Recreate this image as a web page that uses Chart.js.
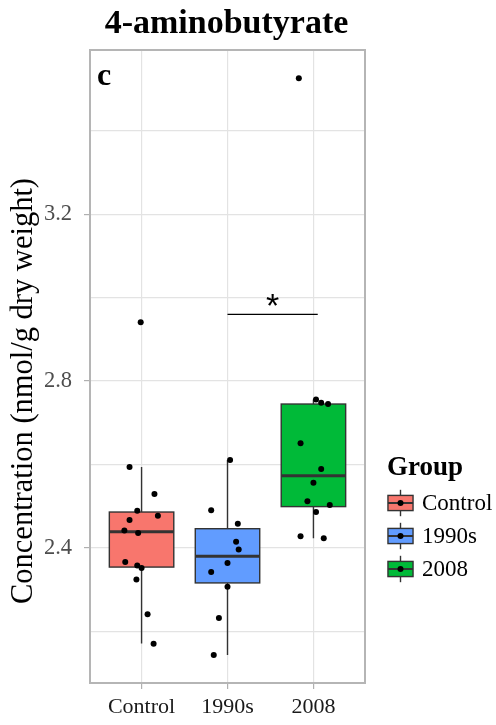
<!DOCTYPE html>
<html>
<head>
<meta charset="utf-8">
<script src="https://cdn.jsdelivr.net/npm/chart.js@4"></script>
<style>
  html, body { margin: 0; padding: 0; background: #fff; }
  #wrap { width: 496px; height: 725px; }
</style>
</head>
<body>
<div id="wrap"><canvas id="chart" width="496" height="725"></canvas></div>
<script>
const groups = ['Control', '1990s', '2008'];
const fills = ['#F8766D', '#619CFF', '#00BA38'];

// box stats
const q1 = [2.354, 2.316, 2.499];
const median = [2.439, 2.380, 2.573];
const q3 = [2.486, 2.446, 2.745];
const whiskerLow = [2.171, 2.143, 2.423];
const whiskerHigh = [2.594, 2.611, 2.756];

// jittered points: values and horizontal offsets
const controlValues = [2.941, 2.594, 2.529, 2.489, 2.477, 2.467, 2.442, 2.436, 2.366, 2.358, 2.352, 2.324, 2.241, 2.170];
const controlJitter = [-0.01, -0.14, 0.15, -0.05, 0.19, -0.14, -0.20, -0.04, -0.19, -0.05, 0.00, -0.06, 0.07, 0.14];
const nineties = [2.611, 2.490, 2.458, 2.415, 2.396, 2.364, 2.342, 2.307, 2.232, 2.143];
const ninetiesJitter = [0.03, -0.19, 0.12, 0.10, 0.13, 0.00, -0.19, 0.00, -0.10, -0.16];
const y2008 = [3.526, 2.756, 2.748, 2.745, 2.651, 2.589, 2.556, 2.512, 2.503, 2.486, 2.428, 2.423];
const y2008Jitter = [-0.17, 0.03, 0.09, 0.17, -0.15, 0.09, 0.00, -0.07, 0.19, 0.03, -0.15, 0.12];

const yMajor = [2.4, 2.8, 3.2];
const yGrid = [2.2, 2.4, 2.6, 2.8, 3.0, 3.2, 3.4];

// significance bar between 1990s and 2008
const sigFrom = 2, sigTo = 3.05, sigY = 2.96;

const SERIF = '"Liberation Serif", "DejaVu Serif", serif';
const BOX_W = 0.75;

function pts(vals, jit, g) {
  return vals.map((v, i) => ({ x: g + jit[i], y: v }));
}

const boxPlugin = {
  id: 'boxes',
  beforeDatasetsDraw(chart) {
    const { ctx, scales: { x, y } } = chart;
    ctx.save();
    groups.forEach((g, i) => {
      const cx = x.getPixelForValue(i + 1);
      const l = x.getPixelForValue(i + 1 - BOX_W / 2);
      const r = x.getPixelForValue(i + 1 + BOX_W / 2);
      const top = y.getPixelForValue(q3[i]);
      const bot = y.getPixelForValue(q1[i]);
      ctx.strokeStyle = '#333';
      ctx.lineWidth = 1.4;
      ctx.beginPath();
      ctx.moveTo(cx, y.getPixelForValue(whiskerHigh[i]));
      ctx.lineTo(cx, top);
      ctx.moveTo(cx, bot);
      ctx.lineTo(cx, y.getPixelForValue(whiskerLow[i]));
      ctx.stroke();
      ctx.fillStyle = fills[i];
      ctx.fillRect(l, top, r - l, bot - top);
      ctx.strokeRect(l, top, r - l, bot - top);
      const m = y.getPixelForValue(median[i]);
      ctx.lineWidth = 3;
      ctx.beginPath();
      ctx.moveTo(l, m);
      ctx.lineTo(r, m);
      ctx.stroke();
    });
    ctx.restore();
  },
  afterDraw(chart) {
    const { ctx, chartArea: a, scales: { x, y } } = chart;
    ctx.save();
    // panel border
    ctx.strokeStyle = '#b5b5b5';
    ctx.lineWidth = 2;
    ctx.strokeRect(a.left, a.top, a.right - a.left, a.bottom - a.top);

    // significance bar
    const sy = y.getPixelForValue(sigY);
    ctx.strokeStyle = '#000';
    ctx.lineWidth = 1.3;
    ctx.beginPath();
    ctx.moveTo(x.getPixelForValue(sigFrom), sy);
    ctx.lineTo(x.getPixelForValue(sigTo), sy);
    ctx.stroke();
    ctx.fillStyle = '#000';
    ctx.font = '34px "Liberation Sans", sans-serif';
    ctx.textAlign = 'center';
    ctx.textBaseline = 'alphabetic';
    ctx.fillText('*', x.getPixelForValue((sigFrom + sigTo) / 2), sy + 3);

    // panel tag
    ctx.font = 'bold 32px ' + SERIF;
    ctx.textAlign = 'left';
    ctx.fillText('c', a.left + 7, a.top + 35);

    // title
    ctx.font = 'bold 34px ' + SERIF;
    ctx.textAlign = 'center';
    ctx.fillText('4-aminobutyrate', (a.left + a.right) / 2 - 1, 33);

    // y axis title
    ctx.save();
    ctx.translate(32, 391);
    ctx.rotate(-Math.PI / 2);
    ctx.font = '30.5px ' + SERIF;
    ctx.fillText('Concentration (nmol/g dry weight)', 0, 0);
    ctx.restore();

    // legend
    ctx.textAlign = 'left';
    ctx.font = 'bold 27px ' + SERIF;
    ctx.fillText('Group', 387, 475);
    const key = 33;
    groups.forEach((g, i) => {
      const cy = 503 + i * key;
      const kx = 384;
      ctx.strokeStyle = '#333';
      ctx.lineWidth = 1.4;
      ctx.beginPath();
      ctx.moveTo(kx + key / 2, cy - key * 0.4);
      ctx.lineTo(kx + key / 2, cy + key * 0.4);
      ctx.stroke();
      ctx.fillStyle = fills[i];
      const bl = kx + key * 0.12, bw = key * 0.76, bt = cy - key * 0.23, bh = key * 0.46;
      ctx.fillRect(bl, bt, bw, bh);
      ctx.strokeRect(bl, bt, bw, bh);
      ctx.lineWidth = 2;
      ctx.beginPath();
      ctx.moveTo(bl, cy);
      ctx.lineTo(bl + bw, cy);
      ctx.stroke();
      ctx.fillStyle = '#000';
      ctx.beginPath();
      ctx.arc(kx + key / 2, cy, 3, 0, Math.PI * 2);
      ctx.fill();
      ctx.font = '23px ' + SERIF;
      ctx.textBaseline = 'middle';
      ctx.fillText(g, 422, cy + 1);
      ctx.textBaseline = 'alphabetic';
    });
    ctx.restore();
  },
};

new Chart(document.getElementById('chart').getContext('2d'), {
  type: 'scatter',
  data: {
    datasets: [
      { data: pts(controlValues, controlJitter, 1) },
      { data: pts(nineties, ninetiesJitter, 2) },
      { data: pts(y2008, y2008Jitter, 3) },
    ].map((d) => ({
      ...d,
      pointRadius: 3,
      pointHoverRadius: 3,
      pointBackgroundColor: '#000',
      pointBorderWidth: 0,
    })),
  },
  options: {
    responsive: false,
    animation: false,
    layout: { padding: { top: 50, right: 131, left: 0, bottom: 0 } },
    plugins: { legend: { display: false }, tooltip: { enabled: false }, title: { display: false } },
    scales: {
      x: {
        type: 'linear',
        min: 0.4,
        max: 3.6,
        afterBuildTicks: (s) => { s.ticks = [1, 2, 3].map((v) => ({ value: v })); },
        afterFit: (s) => { s.height = 42; },
        border: { display: false },
        grid: { color: '#e3e3e3', lineWidth: 1.2, tickLength: 6, tickColor: '#b0b0b0' },
        ticks: {
          autoSkip: false,
          maxRotation: 0,
          padding: 5,
          color: '#1a1a1a',
          font: { family: SERIF, size: 22 },
          callback: (v) => groups[v - 1] ?? '',
        },
      },
      y: {
        min: 2.076,
        max: 3.594,
        afterBuildTicks: (s) => { s.ticks = yGrid.map((v) => ({ value: v })); },
        afterFit: (s) => { s.width = 90; },
        border: { display: false },
        grid: {
          color: '#e3e3e3',
          lineWidth: 1.2,
          tickLength: 6,
          tickColor: (c) => (yMajor.some((m) => Math.abs(m - c.tick.value) < 1e-6) ? '#b0b0b0' : 'transparent'),
        },
        ticks: {
          autoSkip: false,
          padding: 12,
          color: '#4d4d4d',
          font: { family: SERIF, size: 22.5 },
          callback: (v) => (yMajor.some((m) => Math.abs(m - v) < 1e-6) ? v.toFixed(1) : ''),
        },
      },
    },
  },
  plugins: [boxPlugin],
});
</script>
</body>
</html>
